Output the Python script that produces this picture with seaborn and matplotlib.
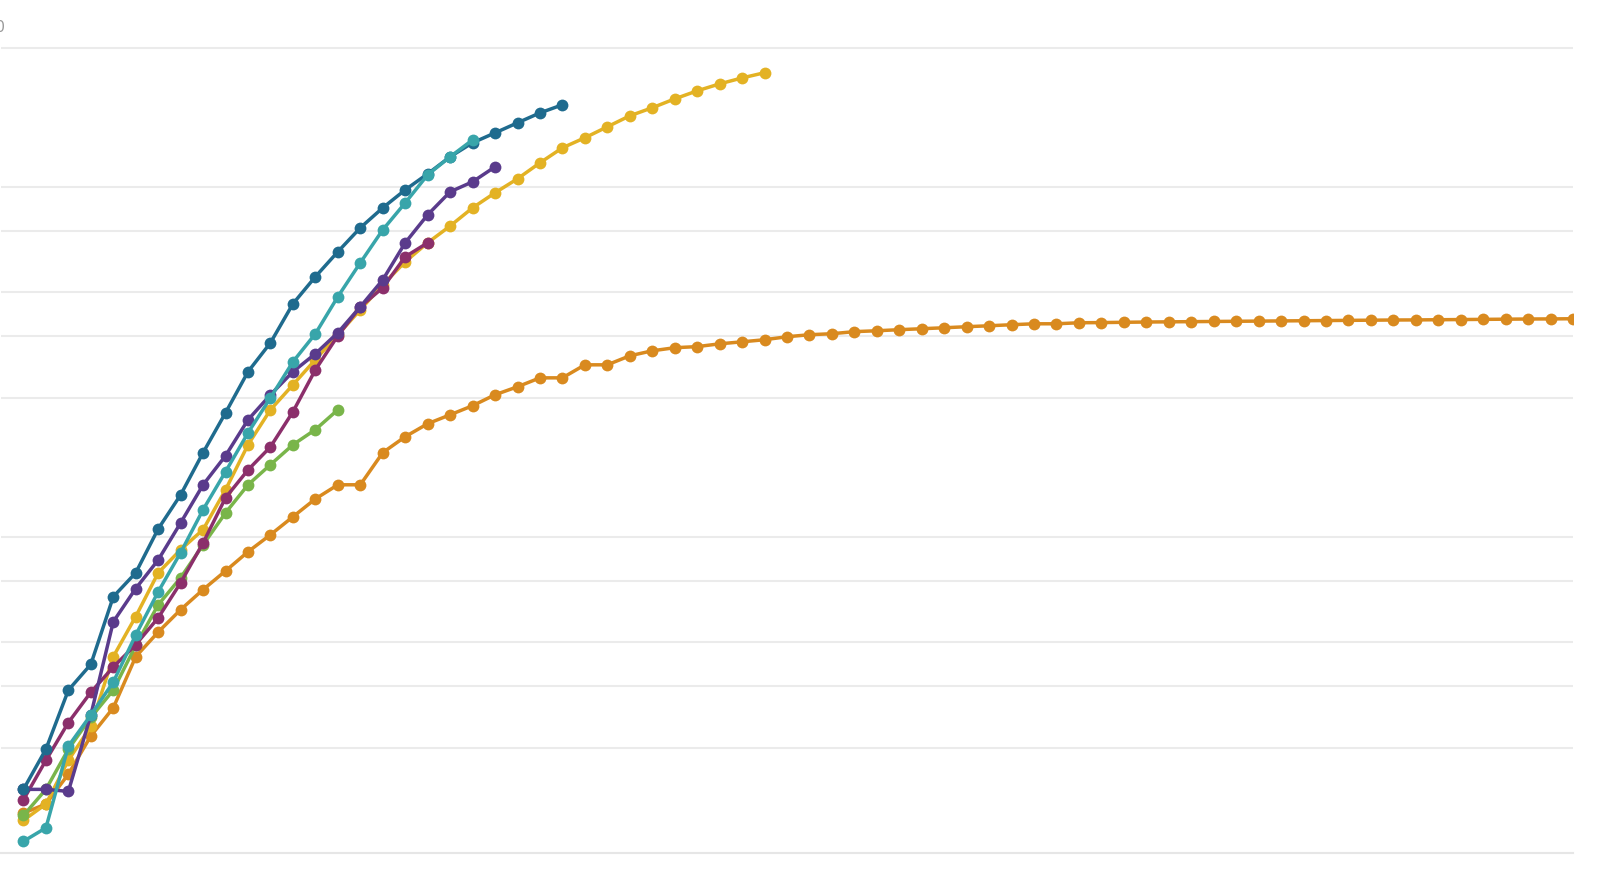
import seaborn as sns
import matplotlib.pyplot as plt
import pandas as pd

# cumulative counts by day (log scale)
orange = [65, 69, 84, 108, 130, 182, 214, 248, 283, 320, 363, 406, 457, 514, 564, 564, 697, 774,
          843, 894, 949, 1020, 1075, 1140, 1140, 1242, 1242, 1318, 1362, 1390, 1400, 1426, 1445,
          1465, 1494, 1514, 1524, 1545, 1554, 1565, 1575, 1585, 1596, 1606, 1617, 1627, 1627,
          1638, 1640, 1643, 1646, 1648, 1650, 1652, 1654, 1656, 1658, 1660, 1662, 1664, 1666,
          1668, 1669, 1671, 1673, 1675, 1677, 1679, 1680, 1682]
yellow = [62, 69, 92, 115, 182, 237, 316, 368, 420, 546, 734, 924, 1089, 1285, 1514, 1784, 2104,
          2447, 2773, 3097, 3490, 3853, 4225, 4693, 5180, 5534, 5948, 6394, 6742, 7147, 7536,
          7889, 8204, 8490]
green = [64, 76, 99, 122, 146, 196, 256, 306, 380, 469, 564, 644, 734, 811, 924]
magenta = [71, 92, 118, 144, 170, 197, 235, 296, 385, 518, 622, 724, 912, 1202, 1504, 1820,
           2062, 2529, 2773]
violet = [76, 76, 75, 124, 229, 285, 344, 439, 564, 683, 865, 1020, 1187, 1336, 1534, 1820,
          2173, 2773, 3334, 3878, 4142, 4571]
blue = [76, 99, 146, 173, 270, 316, 422, 528, 697, 906, 1187, 1436, 1856, 2218, 2614, 3060,
        3490, 3928, 4365, 4883, 5354, 5715, 6106, 6518, 6875]
teal = [54, 59, 101, 124, 154, 210, 279, 361, 479, 615, 794, 1000, 1267, 1524, 1945, 2431,
        3020, 3606, 4337, 4883, 5458]

series = {'orange': orange, 'yellow': yellow, 'green': green, 'magenta': magenta,
          'violet': violet, 'blue': blue, 'teal': teal}
colors = {'orange': '#d98a1f', 'yellow': '#e3b224', 'green': '#79b54a', 'magenta': '#8b2f6b',
          'violet': '#5a3b8c', 'blue': '#1f6b8e', 'teal': '#38a5aa'}

y_grid = [100, 150, 200, 300, 400, 1000, 1500, 2000, 3000, 4000, 10000]
x_ticks = list(range(5, 75, 5))

rows = []
for name, vals in series.items():
    for i, v in enumerate(vals):
        rows.append({'series': name, 'day': i + 1, 'count': v})
df = pd.DataFrame(rows)

sns.set_style('white')
fig = plt.figure(figsize=(16, 8.73), dpi=100)
ax = fig.add_axes([1 / 1600, 20 / 873, 1572 / 1600, 853 / 873])

sns.lineplot(data=df, x='day', y='count', hue='series', hue_order=list(series.keys()),
             palette=colors, marker='o', markersize=8.5, markeredgewidth=0,
             linewidth=2.5, legend=False, sort=False, ax=ax)

ax.set_yscale('log')
ax.set_ylim(50, 13700)
ax.set_xlim(0, 70)
ax.set_yticks(y_grid)
ax.yaxis.set_minor_locator(plt.NullLocator())
ax.set_yticklabels([])
ax.set_xticks(x_ticks)
ax.set_xticklabels([])
ax.grid(axis='y', color='#ebebeb', linewidth=1.5)
ax.set_axisbelow(True)
ax.tick_params(axis='x', length=14, color='#e6e6e6', width=1.2)
ax.tick_params(axis='y', length=0)
for side in ['top', 'right', 'left']:
    ax.spines[side].set_visible(False)
ax.spines['bottom'].set_color('#e6e6e6')
ax.spines['bottom'].set_linewidth(1.5)
ax.set_xlabel('')
ax.set_ylabel('')

# label of the top gridline, mostly cut off at the left edge
fig.text(5 / 1600, 1 - 28 / 873, '10,000', ha='right', va='center', color='#9a9a9a', fontsize=11)

plt.savefig('out.png', dpi=100)
